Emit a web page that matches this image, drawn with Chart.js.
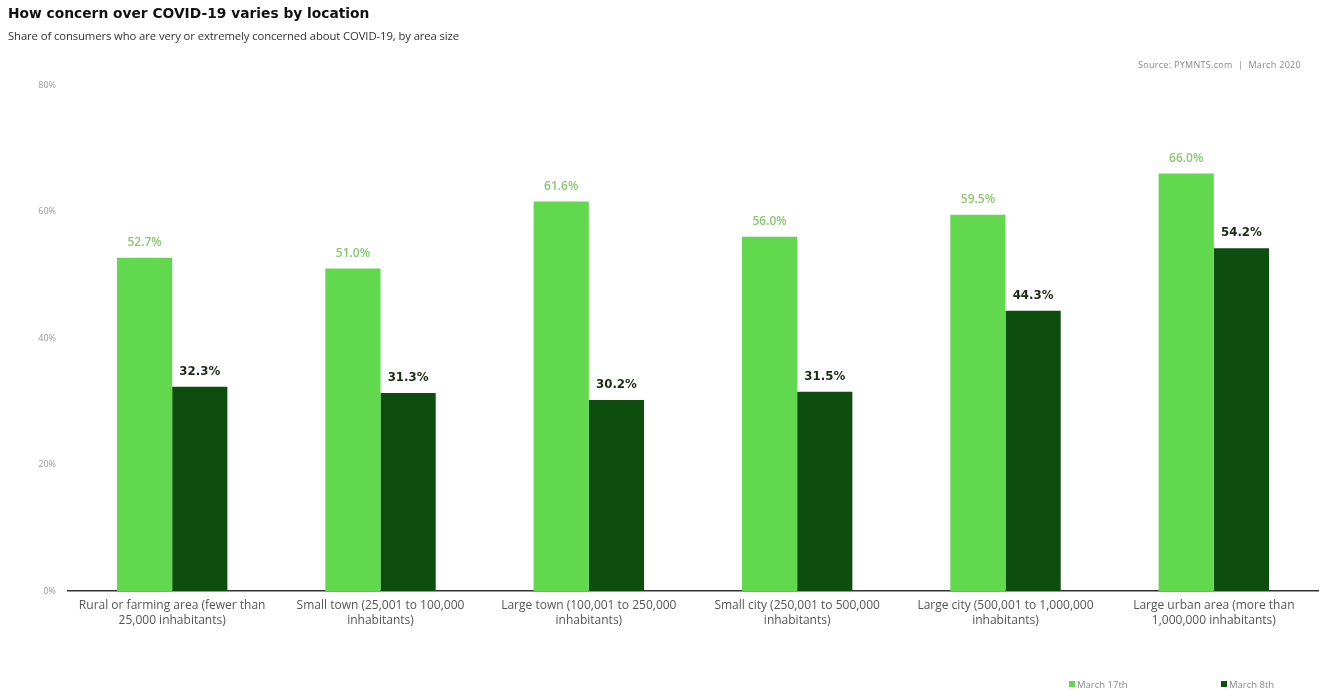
<!DOCTYPE html>
<html>
<head>
<meta charset="utf-8">
<script src="https://cdn.jsdelivr.net/npm/chart.js@4.4.1/dist/chart.umd.min.js"></script>
<style>
  html, body { margin: 0; padding: 0; background: #fff; }
  body { width: 1333px; height: 696px; position: relative; overflow: hidden; font-family: "Open Sans", sans-serif; }
  #title { position: absolute; left: 8px; top: 5px; font: bold 13.8px "DejaVu Sans", sans-serif; color: #111; }
  #subtitle { position: absolute; left: 8px; top: 28px; font: 11.3px "Open Sans", sans-serif; color: #333; letter-spacing: -0.1px; }
  #source { position: absolute; left: 1138px; top: 58px; font: 9px "Open Sans", sans-serif; color: #888; letter-spacing: 0.3px; }
  #legend { position: absolute; left: 1069px; top: 678px; font: 9.5px "Open Sans", sans-serif; color: #888; white-space: nowrap; }
  #legend span.item { position: absolute; top: 0; }
  #legend i { display: inline-block; width: 6px; height: 6px; margin-right: 2px; vertical-align: 1px; }
  #wrap { position: absolute; left: 0; top: 0; width: 1333px; height: 696px; }
</style>
</head>
<body>
<div id="wrap"><canvas id="chart" width="1333" height="696"></canvas></div>
<div id="title">How concern over COVID-19 varies by location</div>
<div id="subtitle">Share of consumers who are very or extremely concerned about COVID-19, by area size</div>
<div id="source">Source: PYMNTS.com &nbsp;|&nbsp; March 2020</div>
<div id="legend">
  <span class="item" style="left:0"><i style="background:#62d84e"></i>March 17th</span>
  <span class="item" style="left:152px"><i style="background:#0d4d0d"></i>March 8th</span>
</div>
<script>
// Area-size categories, each split over two lines
const categories = [
  ["Rural or farming area (fewer than", "25,000 inhabitants)"],
  ["Small town (25,001 to 100,000", "inhabitants)"],
  ["Large town (100,001 to 250,000", "inhabitants)"],
  ["Small city (250,001 to 500,000", "inhabitants)"],
  ["Large city (500,001 to 1,000,000", "inhabitants)"],
  ["Large urban area (more than", "1,000,000 inhabitants)"]
];
// Share of consumers very/extremely concerned (%)
const march17 = [52.7, 51.0, 61.6, 56.0, 59.5, 66.0];
const march8 = [32.3, 31.3, 30.2, 31.5, 44.3, 54.2];
const yTicks = [0, 20, 40, 60, 80];

const lightGreen = "#62d84e";
const darkGreen = "#0d4d0d";

// Writes each bar's value above it
const valueLabels = {
  id: "valueLabels",
  afterDatasetsDraw(chart) {
    const ctx = chart.ctx;
    ctx.save();
    ctx.textAlign = "center";
    ctx.textBaseline = "middle";
    chart.data.datasets.forEach((ds, di) => {
      const meta = chart.getDatasetMeta(di);
      meta.data.forEach((bar, i) => {
        if (di === 0) {
          ctx.font = "600 12px 'Open Sans', sans-serif";
          ctx.fillStyle = "#8ac972";
        } else {
          ctx.font = "bold 11.8px 'DejaVu Sans', sans-serif";
          ctx.fillStyle = "#1c2a16";
        }
        ctx.fillText(ds.data[i].toFixed(1) + "%", bar.x, bar.y - 15);
      });
    });
    ctx.restore();
  }
};

new Chart(document.getElementById("chart"), {
  type: "bar",
  data: {
    labels: categories,
    datasets: [
      { label: "March 17th", data: march17, backgroundColor: lightGreen },
      { label: "March 8th", data: march8, backgroundColor: darkGreen }
    ]
  },
  options: {
    responsive: false,
    animation: false,
    devicePixelRatio: 1,
    layout: { padding: { top: 85, right: 15, left: 0, bottom: 0 } },
    datasets: { bar: { categoryPercentage: 0.53, barPercentage: 1.0 } },
    plugins: {
      legend: { display: false },
      tooltip: { enabled: false }
    },
    scales: {
      x: {
        grid: { display: false, drawTicks: false },
        border: { display: true, color: "#333", width: 1.5 },
        ticks: {
          color: "#555",
          font: { family: "'Open Sans', sans-serif", size: 12, lineHeight: 1.25 },
          padding: 7,
          maxRotation: 0,
          autoSkip: false
        },
        afterFit(scale) { scale.height = 105; }
      },
      y: {
        min: 0,
        max: 80,
        afterBuildTicks(scale) { scale.ticks = yTicks.map(v => ({ value: v })); },
        afterFit(scale) { scale.width = 68; },
        grid: { display: false, drawTicks: false },
        border: { display: false },
        ticks: {
          color: "#999",
          font: { family: "'Open Sans', sans-serif", size: 9 },
          padding: 12,
          callback: v => v + "%"
        }
      }
    }
  },
  plugins: [valueLabels]
});
</script>
</body>
</html>
